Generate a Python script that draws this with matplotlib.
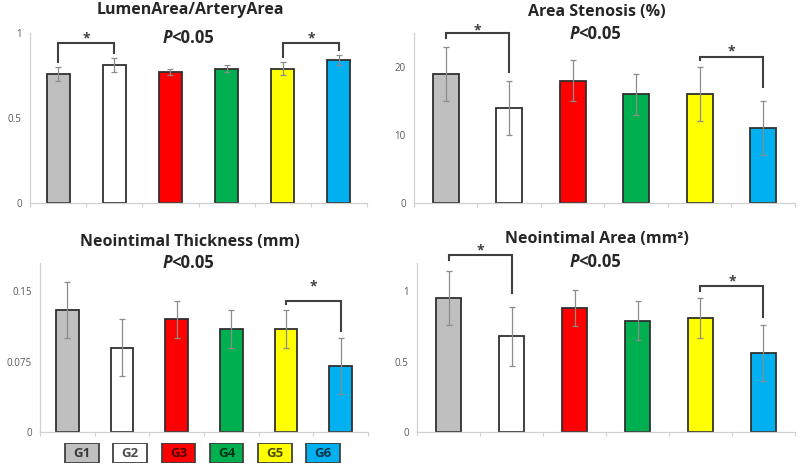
import matplotlib

matplotlib.use("Agg")
import matplotlib.pyplot as plt  # noqa: E402
import numpy as np  # noqa: E402

plt.rcParams["font.family"] = ["Open Sans", "DejaVu Sans"]

GROUPS = ["G1", "G2", "G3", "G4", "G5", "G6"]
COLORS = ["#bfbfbf", "#ffffff", "#ff0000", "#00b050", "#ffff00", "#00b0f0"]

# panel data: means and standard deviations
LUMEN_MEAN = [0.76, 0.81, 0.77, 0.79, 0.79, 0.84]
LUMEN_ERR = [0.04, 0.04, 0.02, 0.02, 0.04, 0.03]
STENOSIS_MEAN = [19, 14, 18, 16, 16, 11]
STENOSIS_ERR = [4, 4, 3, 3, 4, 4]
THICK_MEAN = [0.13, 0.09, 0.12, 0.11, 0.11, 0.07]
THICK_ERR = [0.03, 0.03, 0.02, 0.02, 0.02, 0.03]
NAREA_MEAN = [0.95, 0.68, 0.88, 0.79, 0.81, 0.56]
NAREA_ERR = [0.19, 0.21, 0.13, 0.14, 0.14, 0.20]

# significance brackets: (left group, right group, top, left leg end, right leg end, star y)
LUMEN_SIG = [(0, 1, 0.94, 0.83, 0.88, 0.97), (4, 5, 0.94, 0.86, 0.90, 0.97)]
STENOSIS_SIG = [(0, 1, 25.0, 24.2, 19.3, 25.4), (4, 5, 21.5, 21.0, 17.0, 22.3)]
THICK_SIG = [(4, 5, 0.140, 0.136, 0.108, 0.155)]
NAREA_SIG = [(0, 1, 1.26, 1.22, 0.99, 1.29), (4, 5, 1.035, 1.00, 0.82, 1.07)]

PANELS = [
    # title, means, errs, ylim top, yticks, tick labels, brackets, axes rect (px), title x, title y, p y
    ("LumenArea/ArteryArea", LUMEN_MEAN, LUMEN_ERR, 1.0, [0, 0.5, 1], ["0", "0.5", "1"],
     LUMEN_SIG, (30, 33, 367, 203), 190, 10, 38),
    ("Area Stenosis (%)", STENOSIS_MEAN, STENOSIS_ERR, 25, [0, 10, 20], ["0", "10", "20"],
     STENOSIS_SIG, (414, 33, 795, 203), 597, 12, 34),
    ("Neointimal Thickness (mm)", THICK_MEAN, THICK_ERR, 0.18, [0, 0.075, 0.15],
     ["0", "0.075", "0.15"], THICK_SIG, (40, 263, 368, 432), 190, 242, 263),
    ("Neointimal Area (mm²)", NAREA_MEAN, NAREA_ERR, 1.2, [0, 0.5, 1], ["0", "0.5", "1"],
     NAREA_SIG, (417, 263, 795, 432), 597, 239, 262),
]

W, H = 800, 473
INK = "#262626"
AXIS = "#d0d0d0"
TICK = "#595959"
BRACKET = "#404040"

fig = plt.figure(figsize=(W / 100, H / 100), dpi=100)
fig.patch.set_facecolor("white")


def px_rect(x0, y0, x1, y1):
    return [x0 / W, 1 - y1 / H, (x1 - x0) / W, (y1 - y0) / H]


for title, mean, err, ytop, yt, ytl, sig, rect, tx, ty, py in PANELS:
    ax = fig.add_axes(px_rect(*rect))
    x = np.arange(len(GROUPS))
    ax.bar(x, mean, width=0.41, color=COLORS, edgecolor="#303030", linewidth=1.3, zorder=2)
    ax.errorbar(x, mean, yerr=err, fmt="none", ecolor="#8c8c8c", elinewidth=0.9,
                capsize=2.2, capthick=0.9, zorder=3)
    ax.set_xlim(-0.5, 5.5)
    ax.set_ylim(0, ytop)
    ax.set_yticks(yt)
    ax.set_yticklabels(ytl)
    ax.set_xticks([])
    ax.set_xticks(np.arange(-0.5, 6.0, 1.0), minor=True)
    ax.tick_params(axis="x", which="minor", length=3, color=AXIS, width=0.8)
    ax.tick_params(axis="y", length=0, labelsize=7, labelcolor=TICK, pad=6)
    for side in ("top", "right"):
        ax.spines[side].set_visible(False)
    for side in ("left", "bottom"):
        ax.spines[side].set_color(AXIS)
        ax.spines[side].set_linewidth(0.9)

    for i, j, top, lend, rend, sy in sig:
        ax.plot([i, i, j, j], [lend, top, top, rend], color=BRACKET, linewidth=1.5,
                solid_joinstyle="miter", clip_on=False, zorder=4)
        ax.text((i + j) / 2, sy, "*", ha="center", va="center", fontsize=10,
                fontweight="bold", color=BRACKET, clip_on=False)

    fig.text(tx / W, 1 - ty / H, title, ha="center", va="center", fontsize=11.5,
             fontweight="bold", color=INK)
    fig.text((tx - 18) / W, 1 - py / H, "P", ha="right", va="center", fontsize=12,
             fontweight="bold", style="italic", color=INK)
    fig.text((tx - 18.5) / W, 1 - py / H, "<0.05", ha="left", va="center", fontsize=12,
             fontweight="bold", color=INK)

# group key under the lower-left panel
lax = fig.add_axes(px_rect(58, 443, 347, 463))
lx = np.arange(len(GROUPS))
lax.bar(lx, [1] * len(GROUPS), width=0.7, bottom=0, color=COLORS, edgecolor="#404040",
        linewidth=1.3)
for k, name in enumerate(GROUPS):
    lax.text(k, 0.5, name, ha="center", va="center", fontsize=9.5, fontweight="bold",
             color="black", alpha=0.7)
lax.set_xlim(-0.5, 5.5)
lax.set_ylim(0, 1)
lax.axis("off")

fig.savefig("out.png", dpi=100, facecolor="white")
